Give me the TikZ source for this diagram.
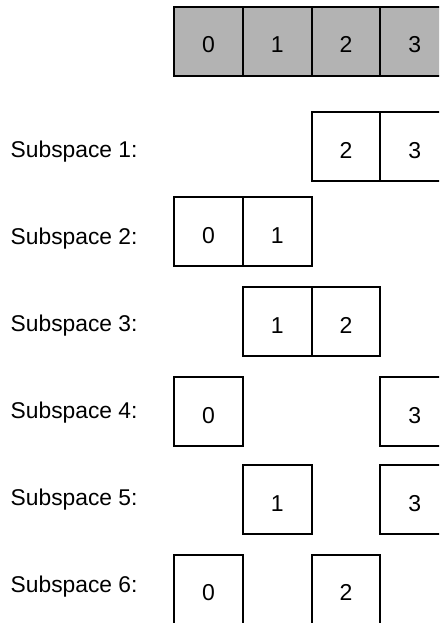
\documentclass[tikz,border=0pt]{standalone}
\usepackage{fontspec}
\setmainfont{Liberation Sans}
\definecolor{cellgray}{RGB}{179,179,179}
\begin{document}
\begin{tikzpicture}[x=1pt,y=-1pt,
  cell/.style={draw=black, line width=2pt, minimum width=68.8pt, minimum height=68.8pt,
    inner sep=0pt, text height=23.2pt, text depth=0pt, font=\fontsize{23}{27}\selectfont},
  grey/.style={fill=cellgray},
  lbl/.style={anchor=base west, inner sep=0pt, font=\fontsize{22.8}{27}\selectfont}]
\useasboundingbox (0,0) rectangle (439,623);
\clip (0,0) rectangle (439,623);
% top row
\node[cell,grey] (t0) at (208.4,41.4) {0};
\node[cell,grey] (t1) at (277.2,41.4) {1};
\node[cell,grey] (t2) at (346.0,41.4) {2};
\node[cell,grey] (t3) at (414.8,41.4) {3};
% labels
\node[lbl] (l1) at (10.5,157) {Subspace 1:};
\node[lbl] (l2) at (10.5,244) {Subspace 2:};
\node[lbl] (l3) at (10.5,331) {Subspace 3:};
\node[lbl] (l4) at (10.5,418) {Subspace 4:};
\node[lbl] (l5) at (10.5,505) {Subspace 5:};
\node[lbl] (l6) at (10.5,592) {Subspace 6:};
% subspace 1
\node[cell] (s1a) at (346.0,146.4) {2};
\node[cell] (s1b) at (414.8,146.4) {3};
% subspace 2
\node[cell] (s2a) at (208.4,231.4) {0};
\node[cell] (s2b) at (277.2,231.4) {1};
% subspace 3
\node[cell] (s3a) at (277.2,321.4) {1};
\node[cell] (s3b) at (346.0,321.4) {2};
% subspace 4
\node[cell] (s4a) at (208.4,411.4) {0};
\node[cell] (s4b) at (414.8,411.4) {3};
% subspace 5
\node[cell] (s5a) at (277.2,499.4) {1};
\node[cell] (s5b) at (414.8,499.4) {3};
% subspace 6
\node[cell] (s6a) at (208.4,589.2) {0};
\node[cell] (s6b) at (346.0,589.2) {2};
\end{tikzpicture}
\end{document}
